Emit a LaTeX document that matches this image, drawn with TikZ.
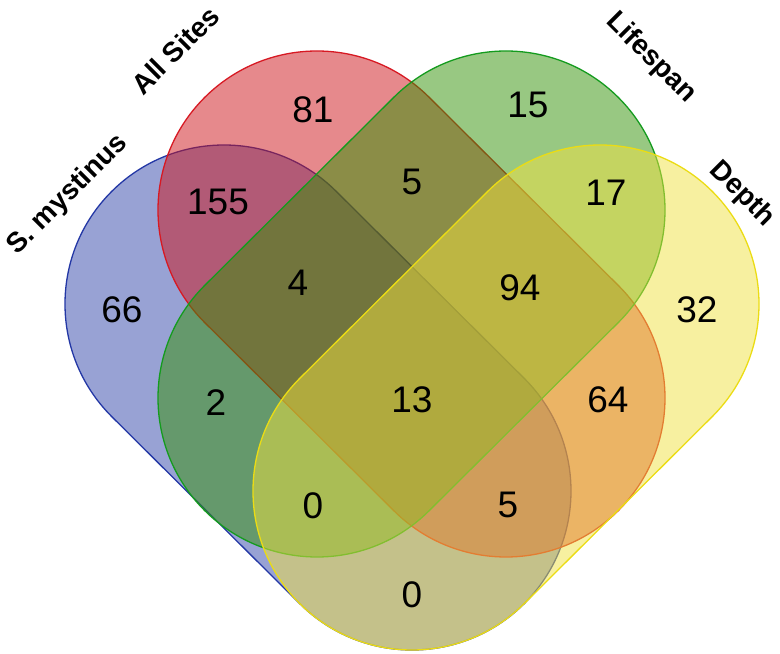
\documentclass[tikz,border=0pt]{standalone}
\usepackage{fontspec}
\setmainfont{Liberation Sans}
\usetikzlibrary{calc}

\definecolor{bluefill}{RGB}{50,70,170}
\definecolor{blueline}{RGB}{35,55,165}
\definecolor{redfill}{RGB}{205,20,25}
\definecolor{redline}{RGB}{215,25,35}
\definecolor{greenfill}{RGB}{50,145,5}
\definecolor{greenline}{RGB}{20,155,30}
\definecolor{yellowfill}{RGB}{240,225,65}
\definecolor{yellowline}{RGB}{235,220,20}

\begin{document}
\begin{tikzpicture}[x=1pt,y=1pt,
  lobe/.style={line width=1.3pt,fill opacity=0.5},
  count/.style={font=\fontsize{37}{40}\selectfont},
  setname/.style={font=\fontsize{28}{32}\selectfont\bfseries}]
\useasboundingbox (0,0) rectangle (780,654);
% circle centres of the lobes
\coordinate (bA) at (224,350);
\coordinate (bB) at (412,163);
\coordinate (rA) at (317,444);
\coordinate (rB) at (506,256);
\coordinate (gA) at (506,444);
\coordinate (gB) at (317,256);
\coordinate (yA) at (600,350);
\coordinate (yB) at (412,163);
% lobes
\draw[lobe,draw=blueline,fill=bluefill] ($(bA)+(45:159pt)$) arc[start angle=45,end angle=225,radius=159pt]
  -- ($(bB)+(225:159pt)$) arc[start angle=225,end angle=405,radius=159pt] -- cycle;
\draw[lobe,draw=redline,fill=redfill] ($(rA)+(45:159pt)$) arc[start angle=45,end angle=225,radius=159pt]
  -- ($(rB)+(225:159pt)$) arc[start angle=225,end angle=405,radius=159pt] -- cycle;
\draw[lobe,draw=greenline,fill=greenfill] ($(gA)+(-45:159pt)$) arc[start angle=-45,end angle=135,radius=159pt]
  -- ($(gB)+(135:159pt)$) arc[start angle=135,end angle=315,radius=159pt] -- cycle;
\draw[lobe,draw=yellowline,fill=yellowfill] ($(yA)+(-45:159pt)$) arc[start angle=-45,end angle=135,radius=159pt]
  -- ($(yB)+(135:159pt)$) arc[start angle=135,end angle=315,radius=159pt] -- cycle;
% set names
\node[setname,rotate=45] (bname) at (68,459) {S. mystinus};
\node[setname,rotate=45] (rname) at (175,604) {All Sites};
\node[setname,rotate=-45] (gname) at (651,596) {Lifespan};
\node[setname,rotate=-45] (yname) at (742,460) {Depth};
% counts
\node[count] (r) at (313,544) {81};
\node[count] (g) at (528,549) {15};
\node[count] (rg) at (412,472) {5};
\node[count] (br) at (218,452) {155};
\node[count] (gy) at (606,461) {17};
\node[count] (b) at (122,344) {66};
\node[count] (brg) at (298,371) {4};
\node[count] (rgy) at (520,366) {94};
\node[count] (y) at (697,344) {32};
\node[count] (bg) at (216,251) {2};
\node[count] (brgy) at (412,254) {13};
\node[count] (ry) at (608,254) {64};
\node[count] (bgy) at (313,148) {0};
\node[count] (bry) at (508,149) {5};
\node[count] (by) at (412,59) {0};
\end{tikzpicture}
\end{document}
